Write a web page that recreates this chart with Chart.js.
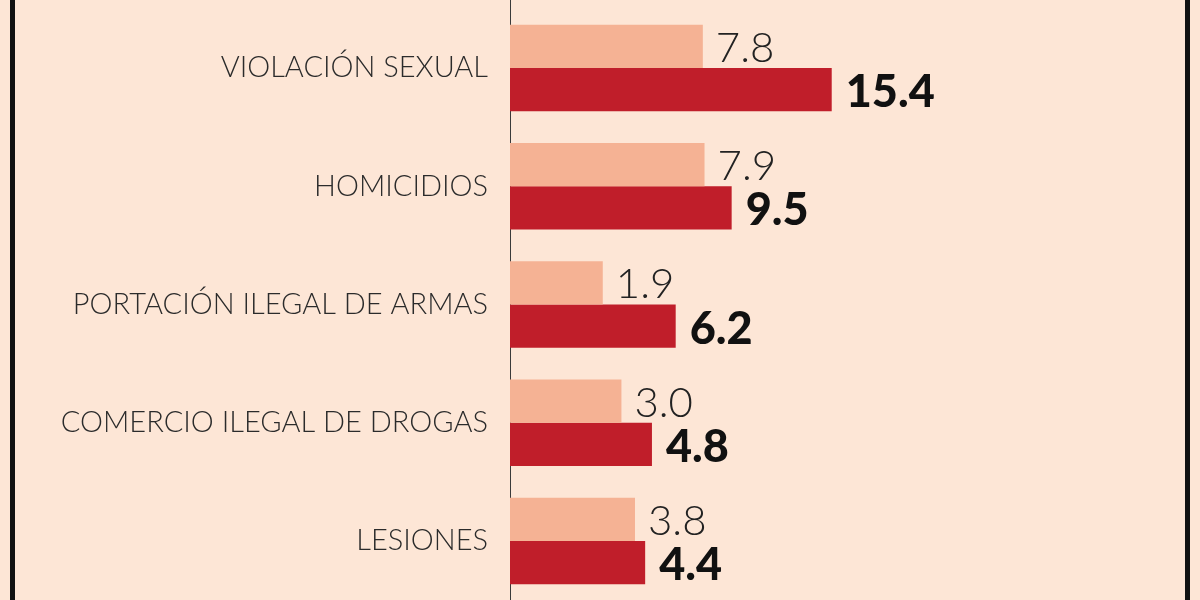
<!DOCTYPE html>
<html>
<head>
<meta charset="utf-8">
<script src="https://cdn.jsdelivr.net/npm/chart.js@4"></script>
<style>
  html, body { margin: 0; padding: 0; background: #fde6d6; overflow: hidden; }
  #wrap { position: relative; width: 1200px; height: 600px; }
  .edge { position: absolute; top: 0; width: 5px; height: 600px; background: #111; }
</style>
</head>
<body>
<div id="wrap">
  <canvas id="myChart" width="1200" height="600"></canvas>
  <div class="edge" style="left:10px"></div>
  <div class="edge" style="left:1185px"></div>
</div>
<script>
const categories = [
  "VIOLACIÓN SEXUAL",
  "HOMICIDIOS",
  "PORTACIÓN ILEGAL DE ARMAS",
  "COMERCIO ILEGAL DE DROGAS",
  "LESIONES"
];
const valoresAnteriores = [7.8, 7.9, 1.9, 3.0, 3.8];
const valoresActuales = [15.4, 9.5, 6.2, 4.8, 4.4];

// the bars in the original start from an offset, not from zero
const axisMin = -3.57;
const axisMax = 36.29;

// axis line runs the full height of the picture
const fullAxisLine = {
  id: "fullAxisLine",
  beforeDatasetsDraw(chart) {
    const ctx = chart.ctx;
    const x = Math.round(chart.scales.y.right) + 0.5;
    ctx.save();
    ctx.strokeStyle = "#3a3a3a";
    ctx.lineWidth = 1;
    ctx.beginPath();
    ctx.moveTo(x, 0);
    ctx.lineTo(x, chart.height);
    ctx.stroke();
    ctx.restore();
  }
};

const valueLabels = {
  id: "valueLabels",
  afterDatasetsDraw(chart) {
    const ctx = chart.ctx;
    chart.data.datasets.forEach((ds, di) => {
      const meta = chart.getDatasetMeta(di);
      meta.data.forEach((bar, i) => {
        ctx.save();
        ctx.textAlign = "left";
        ctx.textBaseline = "middle";
        if (di === 0) {
          ctx.font = "300 42px Lato";
          ctx.fillStyle = "#222";
          ctx.fillText(ds.data[i].toFixed(1), bar.x + 13, bar.y + 2);
        } else {
          ctx.font = "900 45px Lato";
          ctx.fillStyle = "#111";
          ctx.fillText(ds.data[i].toFixed(1), bar.x + 14, bar.y + 3);
        }
        ctx.restore();
      });
    });
  }
};

new Chart(document.getElementById("myChart").getContext("2d"), {
  type: "bar",
  data: {
    labels: categories,
    datasets: [
      {
        data: valoresAnteriores,
        backgroundColor: "#f5b294",
        base: axisMin,
        barPercentage: 1,
        categoryPercentage: 0.732
      },
      {
        data: valoresActuales,
        backgroundColor: "#c01e2a",
        base: axisMin,
        barPercentage: 1,
        categoryPercentage: 0.732
      }
    ]
  },
  options: {
    indexAxis: "y",
    responsive: false,
    animation: false,
    devicePixelRatio: 1,
    layout: { padding: { top: 9, bottom: -1, left: 0, right: 14 } },
    plugins: {
      legend: { display: false },
      tooltip: { enabled: false }
    },
    scales: {
      x: {
        display: false,
        min: axisMin,
        max: axisMax
      },
      y: {
        grid: { display: false },
        border: { display: false },
        ticks: {
          color: "#2b2b2b",
          padding: 14,
          font: { family: "Lato", weight: "300", size: 29 }
        },
        afterFit(scale) {
          scale.width = 510;
          scale.paddingTop = 0;
          scale.paddingBottom = 0;
        }
      }
    }
  },
  plugins: [fullAxisLine, valueLabels]
});
</script>
</body>
</html>
